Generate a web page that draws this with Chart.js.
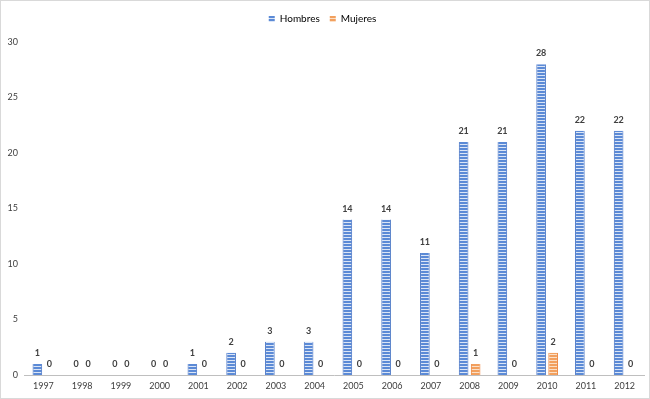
<!DOCTYPE html>
<html>
<head>
<meta charset="utf-8">
<script src="https://cdn.jsdelivr.net/npm/chart.js@4"></script>
<style>
  html, body { margin: 0; padding: 0; background: #fff; }
  #wrap { width: 650px; height: 399px; box-sizing: border-box; border: 1px solid #d9d9d9; position: relative; }
</style>
</head>
<body>
<div id="wrap"><canvas id="myChart" width="648" height="397"></canvas></div>
<script>
// datos
let years = ['1997','1998','1999','2000','2001','2002','2003','2004','2005','2006','2007','2008','2009','2010','2011','2012'];
let hombres = [1, 0, 0, 0, 1, 2, 3, 3, 14, 14, 11, 21, 21, 28, 22, 22];
let mujeres = [0, 0, 0, 0, 0, 0, 0, 0, 0, 0, 0, 1, 0, 2, 0, 0];
let yTicks = [0, 5, 10, 15, 20, 25, 30];

/* rayas horizontales */
function stripes(color, line){
  let c = document.createElement('canvas');
  c.width = 4; c.height = 3;
  let ctx = c.getContext('2d');
  ctx.fillStyle = color;
  ctx.fillRect(0, 0, 4, 3);
  ctx.fillStyle = line;
  ctx.fillRect(0, 2, 4, 1);
  return ctx.createPattern(c, 'repeat');
}

let blue = stripes('#5b8ad6', '#dbe5f6');
let orange = stripes('#f2a05e', '#fbe0c8');

/* etiquetas encima de las barras */
let valueLabels = {
  id: 'valueLabels',
  afterDatasetsDraw(chart){
    let ctx = chart.ctx;
    ctx.save();
    ctx.font = 'bold 9px Lato, "Open Sans", sans-serif';
    ctx.fillStyle = '#404040';
    ctx.textAlign = 'center';
    ctx.textBaseline = 'middle';
    chart.data.datasets.forEach(function(ds, i){
      chart.getDatasetMeta(i).data.forEach(function(bar, j){
        ctx.fillText(ds.data[j], bar.x, bar.y - 11);
      });
    });
    ctx.restore();
  }
};

/* mas espacio debajo de la leyenda */
let legendGap = {
  id: 'legendGap',
  beforeInit(chart){
    let fit = chart.legend.fit;
    chart.legend.fit = function(){
      fit.bind(chart.legend)();
      this.height += 8;
    };
  }
};

let config = {
  type: 'bar',
  data: {
    labels: years,
    datasets: [{
      label: 'Hombres',
      data: hombres,
      backgroundColor: blue,
      borderColor: '#4472c4',
      borderWidth: {left: 1, right: 1, top: 0, bottom: 0},
      borderSkipped: false,
      categoryPercentage: 0.62,
      barPercentage: 0.8
    }, {
      label: 'Mujeres',
      data: mujeres,
      backgroundColor: orange,
      borderColor: '#ed7d31',
      borderWidth: {left: 1, right: 1, top: 0, bottom: 0},
      borderSkipped: false,
      categoryPercentage: 0.62,
      barPercentage: 0.8
    }]
  },
  options: {
    responsive: false,
    animation: false,
    layout: { padding: { top: 3, right: 5, left: 0, bottom: 1 } },
    plugins: {
      tooltip: { enabled: false },
      legend: {
        position: 'top',
        labels: {
          boxWidth: 6, boxHeight: 6,
          color: '#595959',
          font: { size: 10, family: 'Lato, "Open Sans", sans-serif' },
          padding: 10,
          generateLabels: function(chart){
            return chart.data.datasets.map(function(ds, i){
              return { text: ds.label, fillStyle: ds.backgroundColor, strokeStyle: ds.borderColor, lineWidth: 0, datasetIndex: i };
            });
          }
        }
      }
    },
    scales: {
      x: {
        afterFit: function(scale){ scale.height = 22; },
        grid: { display: false, drawTicks: false },
        border: { color: '#bfbfbf' },
        ticks: { color: '#404040', font: { size: 9, family: 'Lato, "Open Sans", sans-serif' }, padding: 6, maxRotation: 0 }
      },
      y: {
        min: 0, max: 30,
        afterFit: function(scale){ scale.width = 23; },
        afterBuildTicks: function(scale){ scale.ticks = yTicks.map(function(v){ return {value: v}; }); },
        grid: { display: false, drawTicks: false },
        border: { display: false },
        ticks: { color: '#404040', font: { size: 9, family: 'Lato, "Open Sans", sans-serif' }, padding: 6 }
      }
    }
  },
  plugins: [valueLabels, legendGap]
};

let myChart = new Chart(document.getElementById('myChart'), config);
</script>
</body>
</html>
